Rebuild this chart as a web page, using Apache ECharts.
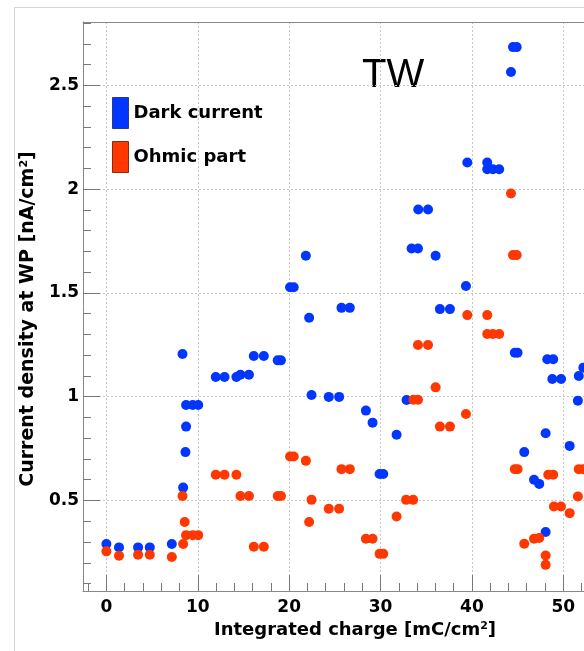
<!DOCTYPE html>
<html><head><meta charset="utf-8">
<script src="https://cdn.jsdelivr.net/npm/echarts@6/dist/echarts.min.js"></script>
<style>html,body{margin:0;padding:0;background:#fff}#c{width:584px;height:651px}</style>
</head><body><div id="c"></div>
<script>
// Dark current (blue)
const darkX = [0, 1.38, 3.47, 4.75, 7.16, 8.33, 8.4, 8.65, 8.72, 8.72, 9.45, 10.05, 11.97, 12.93, 14.23, 14.67, 15.6, 16.13, 17.23, 18.75, 19.1, 20.1, 20.5, 21.83, 22.19, 22.45, 24.34, 25.47, 25.73, 26.64, 28.4, 29.13, 29.9, 30.3, 31.76, 32.85, 33.4, 34.1, 34.13, 35.2, 36.03, 36.5, 37.6, 39.35, 39.5, 41.68, 41.68, 42.3, 42.99, 44.28, 44.5, 44.9, 44.7, 45.0, 45.73, 46.8, 47.37, 48.07, 48.07, 48.25, 48.9, 48.8, 49.76, 50.7, 51.6, 51.7, 52.2];
const darkY = [0.29, 0.274, 0.274, 0.274, 0.29, 1.206, 0.562, 0.733, 0.856, 0.96, 0.96, 0.96, 1.095, 1.095, 1.095, 1.106, 1.106, 1.196, 1.196, 1.175, 1.175, 1.527, 1.527, 1.679, 1.38, 1.008, 0.999, 0.999, 1.428, 1.428, 0.933, 0.875, 0.628, 0.628, 0.817, 0.984, 1.714, 1.714, 1.902, 1.902, 1.679, 1.422, 1.422, 1.533, 2.128, 2.128, 2.096, 2.096, 2.096, 2.564, 2.684, 2.684, 1.212, 1.212, 0.733, 0.6, 0.58, 0.824, 0.348, 1.18, 1.18, 1.085, 1.085, 0.763, 0.981, 1.1, 1.14];
// Ohmic part (red)
const ohmicX = [0, 1.38, 3.47, 4.75, 7.16, 8.33, 8.4, 8.57, 8.72, 9.45, 10.05, 11.97, 12.93, 14.23, 14.67, 15.6, 16.13, 17.23, 18.75, 19.1, 20.1, 20.5, 21.83, 22.19, 22.45, 24.34, 25.47, 25.73, 26.64, 28.4, 29.13, 29.9, 30.3, 31.76, 32.8, 33.57, 33.6, 34.1, 34.1, 35.2, 36.03, 36.5, 37.6, 39.35, 39.5, 41.68, 41.68, 42.3, 42.99, 44.28, 44.5, 44.9, 44.7, 45.0, 45.73, 46.8, 47.37, 48.07, 48.07, 48.36, 48.9, 48.98, 49.75, 50.7, 51.6, 51.7, 52.2];
const ohmicY = [0.255, 0.234, 0.239, 0.239, 0.228, 0.522, 0.29, 0.396, 0.333, 0.333, 0.333, 0.624, 0.624, 0.624, 0.522, 0.522, 0.277, 0.277, 0.522, 0.522, 0.712, 0.712, 0.691, 0.396, 0.503, 0.46, 0.46, 0.651, 0.651, 0.316, 0.316, 0.243, 0.243, 0.423, 0.503, 0.503, 0.985, 0.985, 1.249, 1.249, 1.045, 0.856, 0.856, 0.917, 1.393, 1.393, 1.302, 1.302, 1.302, 1.979, 1.682, 1.682, 0.651, 0.651, 0.292, 0.316, 0.319, 0.235, 0.19, 0.624, 0.624, 0.471, 0.471, 0.439, 0.519, 0.651, 0.651];

const xTickLabels = [0, 10, 20, 30, 40, 50];
const xMinorTicks = [-2, 0, 2, 4, 6, 8, 10, 12, 14, 16, 18, 20, 22, 24, 26, 28, 30, 32, 34, 36, 38, 40, 42, 44, 46, 48, 50, 52];
const yTickLabels = [0.5, 1, 1.5, 2, 2.5];
const yMinorTicks = [0.1, 0.2, 0.3, 0.4, 0.5, 0.6, 0.7, 0.8, 0.9, 1.0, 1.1, 1.2, 1.3, 1.4, 1.5, 1.6, 1.7, 1.8, 1.9, 2.0, 2.1, 2.2, 2.3, 2.4, 2.5, 2.6, 2.7, 2.8];

const X_MIN = -2.56, X_MAX = 52.27, Y_MIN = 0.064, Y_MAX = 2.805;
const BLUE = '#0036ff', RED = '#ff3800';

const darkData = darkX.map((x, i) => [x, darkY[i]]);
const ohmicData = ohmicX.map((x, i) => [x, ohmicY[i]]);

const FONT = 'DejaVu Sans';
const gridLine = { show: true, lineStyle: { color: '#c8c8c8', type: [2, 2], width: 1 } };
const supStyle = { fontFamily: FONT, fontWeight: 'bold', fontSize: 11, verticalAlign: 'top', color: '#000', lineHeight: 12 };

const chart = echarts.init(document.getElementById('c'), null, { renderer: 'canvas' });
chart.setOption({
  animation: false,
  backgroundColor: '#fff',
  grid: { left: 83, top: 22, right: 0, bottom: 60, show: false, containLabel: false },
  graphic: [
    { type: 'rect', shape: { x: 14.5, y: 7.5, width: 1000, height: 1000 }, style: { fill: 'none', stroke: '#d4d4d4', lineWidth: 1 }, silent: true },
    { type: 'text', left: 362, top: 56, style: { text: 'TW', font: '40px "Liberation Sans"', fill: '#000' } }
  ],
  legend: {
    orient: 'vertical', left: 112, top: 97, padding: 0, itemWidth: 16, itemHeight: 31, itemGap: 12, icon: 'rect',
    textStyle: { fontFamily: FONT, fontWeight: 'bold', fontSize: 18, color: '#000' },
    data: [
      { name: 'Dark current', itemStyle: { color: BLUE, opacity: 1, borderColor: '#2a3a8a', borderWidth: 1 } },
      { name: 'Ohmic part', itemStyle: { color: RED, opacity: 1, borderColor: '#8a2a10', borderWidth: 1 } }
    ]
  },
  xAxis: [
    {
      type: 'value', min: X_MIN, max: X_MAX, position: 'bottom',
      axisLine: { show: true, onZero: false, lineStyle: { color: '#888', width: 1 } },
      axisTick: { show: true, inside: true, length: 16, customValues: xTickLabels, lineStyle: { color: '#777' } },
      axisLabel: { customValues: xTickLabels, margin: 8, fontFamily: FONT, fontWeight: 'bold', fontSize: 17, color: '#000' },
      splitLine: gridLine,
      name: 'Integrated charge [mC/cm{sup|2}]', nameLocation: 'middle', nameGap: 25,
      nameTextStyle: { fontFamily: FONT, fontWeight: 'bold', fontSize: 18, color: '#000', padding: [0, 0, 0, 43], rich: { sup: supStyle } }
    },
    {
      type: 'value', min: X_MIN, max: X_MAX, position: 'bottom',
      axisLine: { show: false, onZero: false },
      axisTick: { show: true, inside: true, length: 8, customValues: xMinorTicks, lineStyle: { color: '#777' } },
      axisLabel: { show: false }, splitLine: { show: false }
    },
    {
      type: 'value', min: X_MIN, max: X_MAX, position: 'top',
      axisLine: { show: true, onZero: false, lineStyle: { color: '#888', width: 1 } },
      axisTick: { show: false }, axisLabel: { show: false }, splitLine: { show: false }
    }
  ],
  yAxis: [
    {
      type: 'value', min: Y_MIN, max: Y_MAX, position: 'left',
      axisLine: { show: true, onZero: false, lineStyle: { color: '#888', width: 1 } },
      axisTick: { show: true, inside: true, length: 17, customValues: yTickLabels, lineStyle: { color: '#777' } },
      axisLabel: { customValues: yTickLabels, margin: 4, fontFamily: FONT, fontWeight: 'bold', fontSize: 17, color: '#000' },
      splitLine: gridLine,
      name: 'Current density at WP [nA/cm{sup|2}]', nameLocation: 'middle', nameGap: 45, nameRotate: 90,
      nameTextStyle: { fontFamily: FONT, fontWeight: 'bold', fontSize: 19, color: '#000', padding: [0, 25, 0, 0], rich: { sup: supStyle } }
    },
    {
      type: 'value', min: Y_MIN, max: Y_MAX, position: 'left',
      axisLine: { show: false, onZero: false },
      axisTick: { show: true, inside: true, length: 8, customValues: yMinorTicks, lineStyle: { color: '#777' } },
      axisLabel: { show: false }, splitLine: { show: false }
    }
  ],
  series: [
    { name: 'Dark current', type: 'scatter', xAxisIndex: 0, yAxisIndex: 0, symbol: 'circle', symbolSize: 10, itemStyle: { color: BLUE, opacity: 1 }, data: darkData },
    { name: 'Ohmic part', type: 'scatter', xAxisIndex: 0, yAxisIndex: 0, symbol: 'circle', symbolSize: 10, itemStyle: { color: RED, opacity: 1 }, data: ohmicData }
  ]
});
</script></body></html>
